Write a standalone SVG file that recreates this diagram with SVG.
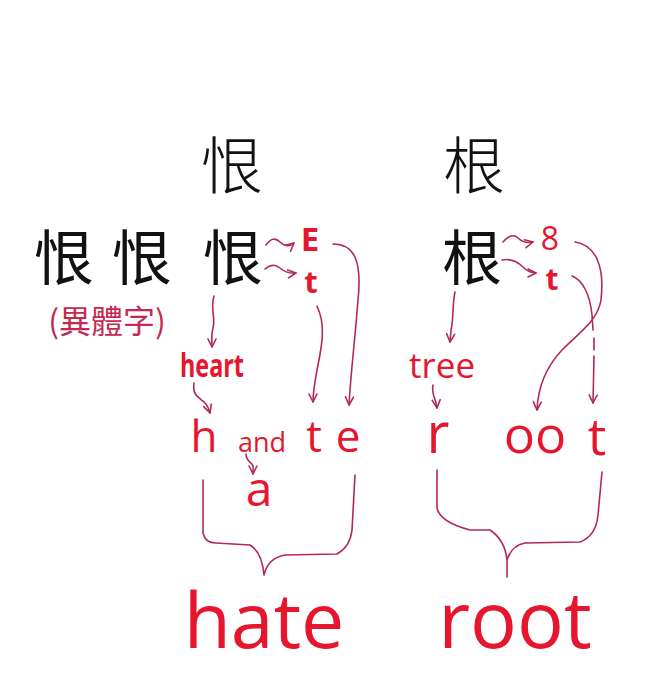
<svg xmlns="http://www.w3.org/2000/svg" width="672" height="700" viewBox="0 0 672 700">
<style>
.cjk{font-family:"Noto Sans CJK TC","Noto Sans CJK SC",sans-serif;fill:#111;text-anchor:middle}
.seal{font-weight:300}
.red{font-family:"Open Sans","Liberation Sans",sans-serif;fill:#e5162e}
.note{font-family:"Noto Sans CJK TC","Noto Sans CJK SC",sans-serif;fill:#c42a4f;text-anchor:middle}
.hand{fill:none;stroke:#b22a52;stroke-width:1.6;stroke-linecap:round;stroke-linejoin:round}
</style>
<defs>
<marker id="ah" viewBox="0 0 10 10" refX="9" refY="5" markerWidth="10" markerHeight="10" markerUnits="userSpaceOnUse" orient="auto">
<path d="M1,1 L9,5 L1,9" fill="none" stroke="#b22a52" stroke-width="1.6" stroke-linecap="round" stroke-linejoin="round"/>
</marker>
</defs>
<rect width="672" height="700" fill="#fff"/>

<g id="seal-hen"><text class="cjk seal" x="232" y="189" font-size="62">恨</text></g>
<g id="seal-gen"><text class="cjk seal" x="474" y="189" font-size="62">根</text></g>

<g id="variant1"><text class="cjk" x="64" y="280" font-size="60">恨</text></g>
<g id="variant2"><text class="cjk" x="142" y="280" font-size="60">恨</text></g>
<g id="hen"><text class="cjk" x="233" y="280" font-size="60">恨</text></g>
<g id="gen"><text class="cjk" x="472" y="280" font-size="60">根</text></g>
<g id="note"><text class="note" x="107" y="333" font-size="32">(異體字)</text></g>

<g id="E"><text class="red" x="310" y="251" font-size="33" font-weight="700" text-anchor="middle">E</text></g>
<g id="t1"><text class="red" x="311" y="293" font-size="31" font-weight="700" text-anchor="middle">t</text></g>
<g id="eight"><text class="red" x="550" y="250" font-size="32" text-anchor="middle">8</text></g>
<g id="t2"><text class="red" x="552" y="290" font-size="30" font-weight="700" text-anchor="middle">t</text></g>

<g id="heart"><text class="red" x="180" y="377" font-size="32" font-weight="700" textLength="64" lengthAdjust="spacingAndGlyphs">heart</text></g>
<g id="tree"><text class="red" x="409" y="378" font-size="35">tree</text></g>

<g id="h"><text class="red" x="204" y="452" font-size="44" text-anchor="middle">h</text></g>
<g id="and"><text class="red" x="262" y="452" font-size="27" text-anchor="middle">and</text></g>
<g id="t3"><text class="red" x="314" y="452" font-size="44" text-anchor="middle">t</text></g>
<g id="e"><text class="red" x="348" y="452" font-size="44" text-anchor="middle">e</text></g>
<g id="a"><text class="red" x="259" y="506" font-size="48" text-anchor="middle">a</text></g>

<g id="r"><text class="red" x="438" y="453" font-size="56" text-anchor="middle">r</text></g>
<g id="oo"><text class="red" x="535" y="453" font-size="52" text-anchor="middle">oo</text></g>
<g id="t4"><text class="red" x="597" y="455" font-size="52" text-anchor="middle">t</text></g>

<g id="hate"><text class="red" x="264" y="648" font-size="77" text-anchor="middle">hate</text></g>
<g id="root"><text class="red" x="515" y="648" font-size="78" text-anchor="middle">root</text></g>

<g id="connectors">
<path class="hand" marker-end="url(#ah)" d="M266,245 Q273,235 280,242 T294,243"/>
<path class="hand" marker-end="url(#ah)" d="M265,269 Q273,262 280,268 T296,273"/>
<path class="hand" marker-end="url(#ah)" d="M333,244 C355,244 362,262 358,300 C355,340 351,370 349,405"/>
<path class="hand" marker-end="url(#ah)" d="M317,306 C326,325 322,345 318,365 C315,380 313,392 313,402"/>
<path class="hand" marker-end="url(#ah)" d="M214,296 C210,310 216,318 213,328 C211,336 212,342 212,347"/>
<path class="hand" marker-end="url(#ah)" d="M194,383 C192,396 200,398 205,403 C208,406 209,410 210,413"/>
<path class="hand" marker-end="url(#ah)" d="M246,454 C246,462 252,462 253,466 L253,474"/>
<path class="hand" d="M203,480 L203,533 Q205,543 216,543 L250,545 Q262,552 264,575 Q268,558 285,555 L337,554 Q350,547 352,530 L355,475"/>

<path class="hand" marker-end="url(#ah)" d="M503,242 Q512,232 518,238 T533,242"/>
<path class="hand" marker-end="url(#ah)" d="M502,260 C512,258 518,262 523,267 C527,271 531,273 536,273"/>
<path class="hand" marker-end="url(#ah)" d="M575,242 C595,245 605,265 601,300 C598,320 580,332 562,350 C548,365 538,385 537,410"/>
<path class="hand" marker-end="url(#ah)" d="M572,276 C583,280 590,295 592,315 L593,330 M594,338 L594,350 M594,356 L593,403"/>
<path class="hand" marker-end="url(#ah)" d="M455,292 C452,305 454,318 451,330 L450,342"/>
<path class="hand" marker-end="url(#ah)" d="M433,385 C431,395 436,398 437,408"/>
<path class="hand" d="M437,470 L437,508 Q440,522 470,530 L490,530 Q505,540 507,560 L507,577 M507,560 Q512,545 525,543 L580,542 Q596,536 598,515 L602,472"/>
</g>
</svg>
